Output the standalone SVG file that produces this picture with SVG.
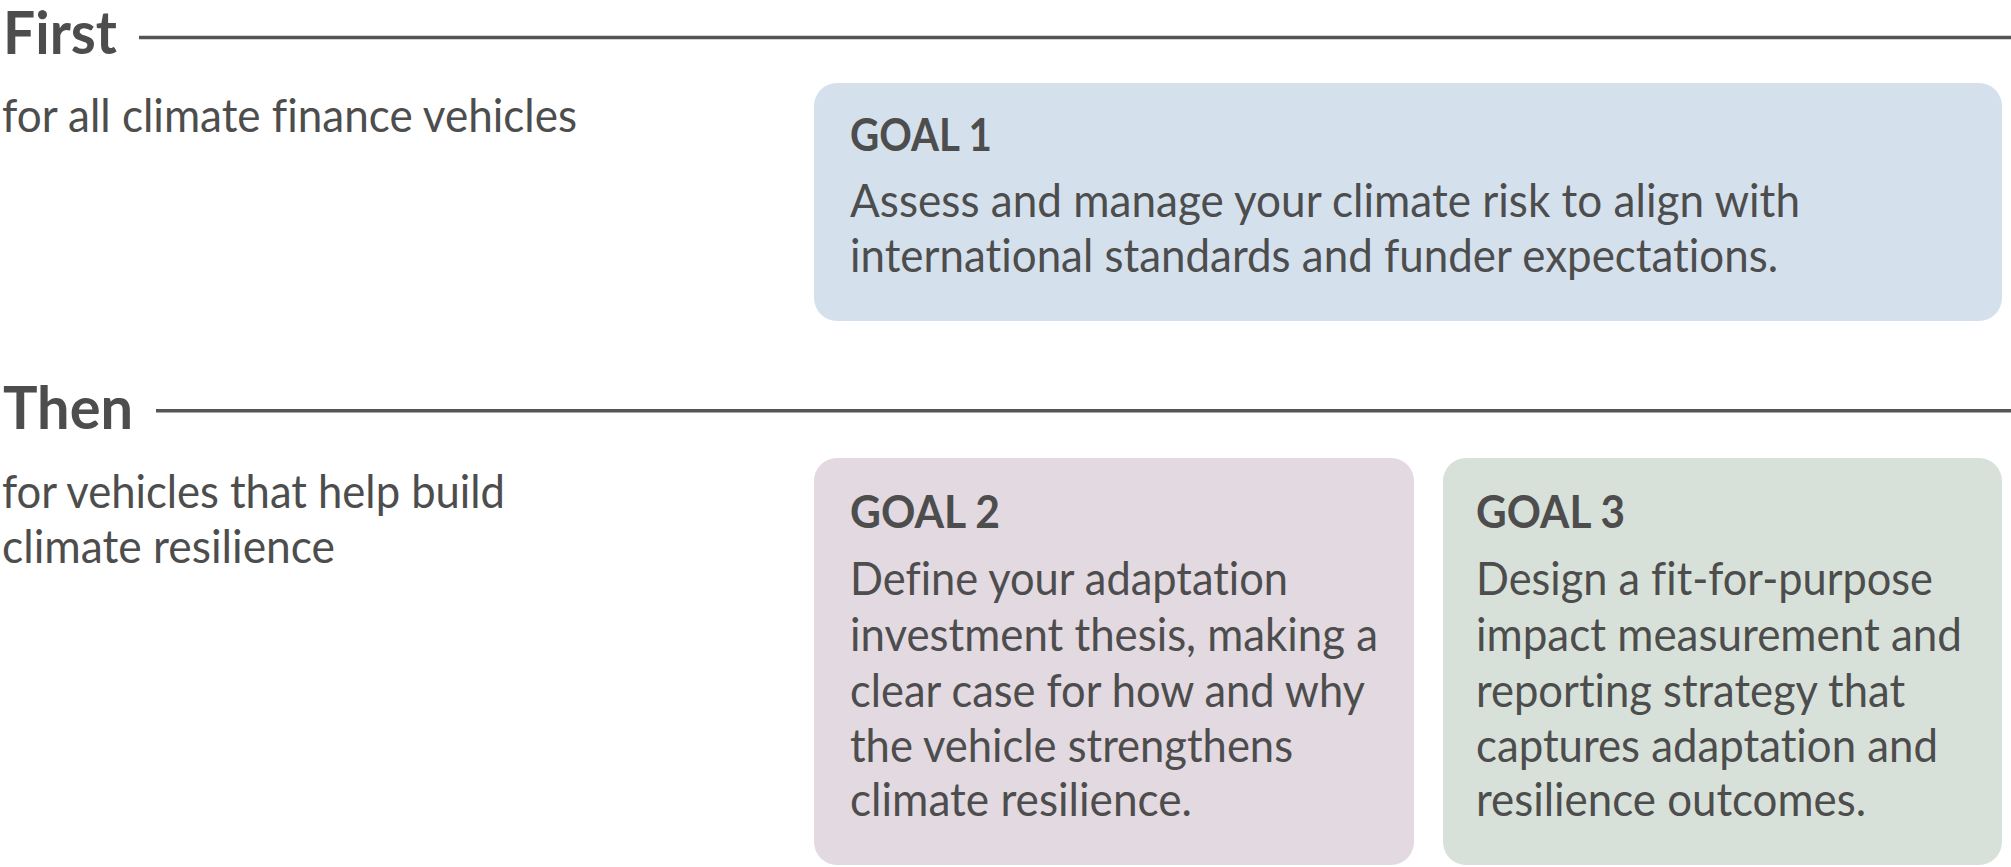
<svg xmlns="http://www.w3.org/2000/svg" width="2011" height="867" viewBox="0 0 2011 867">
<style>
text{font-variant-ligatures:none;font-feature-settings:"liga" 0,"dlig" 0}
.h{font-family:Lato,"Source Sans Pro","Liberation Sans",sans-serif;font-weight:700;font-size:60px;fill:#4d4d4d}
.t{font-family:Lato,"Source Sans Pro","Liberation Sans",sans-serif;font-weight:400;font-size:46px;fill:#4d4d4d}
.g{font-family:Lato,"Source Sans Pro","Liberation Sans",sans-serif;font-weight:700;font-size:45px;fill:#4d4d4d}
.rule{stroke:#555555;stroke-width:3.5;fill:none}
.b1{fill:#d4e1ec}
.b2{fill:#e2d9e1}
.b3{fill:#d8e1d9}
</style>
<rect width="2011" height="867" fill="#ffffff"/>
<g id="section-first">
<text class="h" x="3" y="54" textLength="114" lengthAdjust="spacingAndGlyphs">First</text>
<line class="rule" x1="139" y1="37.5" x2="2011" y2="37.5"/>
<text class="t" x="2" y="132" textLength="575" lengthAdjust="spacingAndGlyphs">for all climate finance vehicles</text>
</g>
<g id="goal1">
<rect class="b1" x="814" y="83" width="1188" height="238" rx="23"/>
<text class="g" x="850" y="151" textLength="142" lengthAdjust="spacingAndGlyphs">GOAL 1</text>
<text class="t" x="850" y="217" textLength="950" lengthAdjust="spacingAndGlyphs">Assess and manage your climate risk to align with</text>
<text class="t" x="850" y="272" textLength="928" lengthAdjust="spacingAndGlyphs">international standards and funder expectations.</text>
</g>
<g id="section-then">
<text class="h" x="3" y="429" textLength="130" lengthAdjust="spacingAndGlyphs">Then</text>
<line class="rule" x1="156" y1="410.7" x2="2011" y2="410.7"/>
<text class="t" x="2" y="508" textLength="503" lengthAdjust="spacingAndGlyphs">for vehicles that help build</text>
<text class="t" x="2" y="563" textLength="333" lengthAdjust="spacingAndGlyphs">climate resilience</text>
</g>
<g id="goal2">
<rect class="b2" x="814" y="458" width="600" height="407" rx="23"/>
<text class="g" x="850" y="528" textLength="150" lengthAdjust="spacingAndGlyphs">GOAL 2</text>
<text class="t" x="850" y="595" textLength="438" lengthAdjust="spacingAndGlyphs">Define your adaptation</text>
<text class="t" x="850" y="651" textLength="528" lengthAdjust="spacingAndGlyphs">investment thesis, making a</text>
<text class="t" x="850" y="707" textLength="515" lengthAdjust="spacingAndGlyphs">clear case for how and why</text>
<text class="t" x="850" y="762" textLength="443" lengthAdjust="spacingAndGlyphs">the vehicle strengthens</text>
<text class="t" x="850" y="816" textLength="342" lengthAdjust="spacingAndGlyphs">climate resilience.</text>
</g>
<g id="goal3">
<rect class="b3" x="1443" y="458" width="559" height="407" rx="23"/>
<text class="g" x="1476" y="528" textLength="149" lengthAdjust="spacingAndGlyphs">GOAL 3</text>
<text class="t" x="1476" y="595" textLength="457" lengthAdjust="spacingAndGlyphs">Design a fit-for-purpose</text>
<text class="t" x="1476" y="651" textLength="486" lengthAdjust="spacingAndGlyphs">impact measurement and</text>
<text class="t" x="1476" y="707" textLength="429" lengthAdjust="spacingAndGlyphs">reporting strategy that</text>
<text class="t" x="1476" y="762" textLength="462" lengthAdjust="spacingAndGlyphs">captures adaptation and</text>
<text class="t" x="1476" y="816" textLength="390" lengthAdjust="spacingAndGlyphs">resilience outcomes.</text>
</g>
<g id="connectors"></g>
</svg>
